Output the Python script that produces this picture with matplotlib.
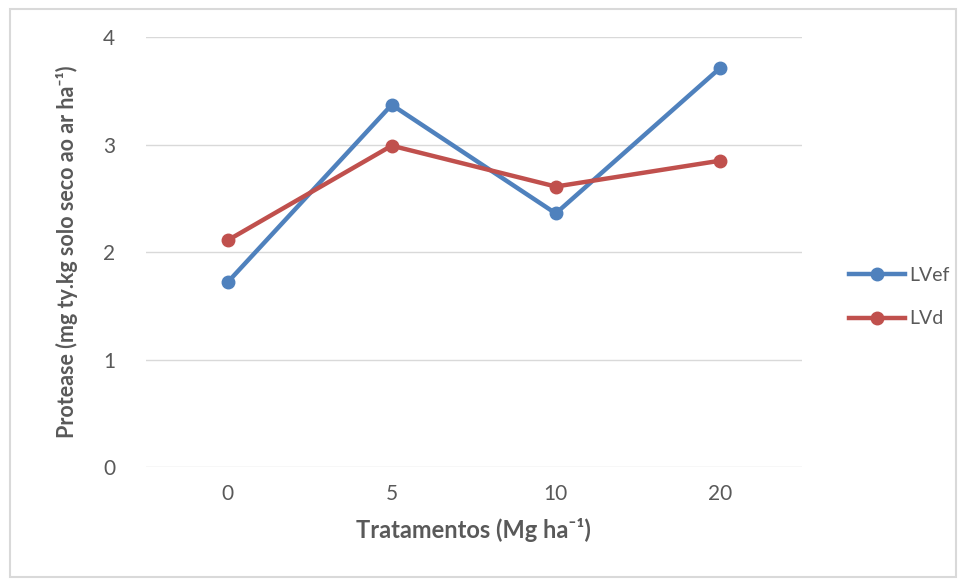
import matplotlib
matplotlib.use('Agg')
import matplotlib.pyplot as plt
from matplotlib.patches import Rectangle

plt.rcParams['font.family'] = ['Lato', 'DejaVu Sans']

tratamentos = ['0', '5', '10', '20']
lvef = [1.72, 3.37, 2.36, 3.71]
lvd = [2.11, 2.99, 2.61, 2.85]

text_color = '#595959'
grid_color = '#d9d9d9'

fig = plt.figure(figsize=(9.58, 5.79), dpi=100)
ax = fig.add_axes([0.152, 0.193, 0.685, 0.743])

x = range(len(tratamentos))
ax.plot(x, lvef, color='#4f81bd', lw=3.2, marker='o', markersize=9, label='LVef', zorder=3)
ax.plot(x, lvd, color='#c0504d', lw=3.2, marker='o', markersize=9, label='LVd', zorder=3)

ax.set_xlim(-0.5, 3.5)
ax.set_ylim(0, 4)
ax.set_yticks([0, 1, 2, 3, 4])
ax.set_xticks(list(x))
ax.set_xticklabels(tratamentos)
ax.grid(axis='y', color=grid_color, lw=1)
ax.set_axisbelow(True)
for s in ax.spines.values():
    s.set_visible(False)
ax.tick_params(length=0, labelsize=15, colors=text_color, pad=12)
ax.tick_params(axis='y', pad=22)

ax.set_xlabel('Tratamentos (Mg ha\u207b\u00b9)', fontsize=17, color=text_color,
              fontweight='bold', labelpad=10)
ax.set_ylabel('Protease (mg ty.kg solo seco ao ar ha\u207b\u00b9)', fontsize=15.5,
              color=text_color, fontweight='bold', labelpad=18)

ax.legend(loc='center left', bbox_to_anchor=(1.045, 0.395), frameon=False,
          fontsize=14, labelcolor=text_color, handlelength=2.9,
          handletextpad=0.2, labelspacing=1.35)

# moldura do gráfico
fig.patches.append(Rectangle((10 / 958, 2 / 579), 946 / 958, 568 / 579,
                             transform=fig.transFigure, fill=False,
                             edgecolor=grid_color, lw=1.5))

fig.savefig('out.png', dpi=100)
